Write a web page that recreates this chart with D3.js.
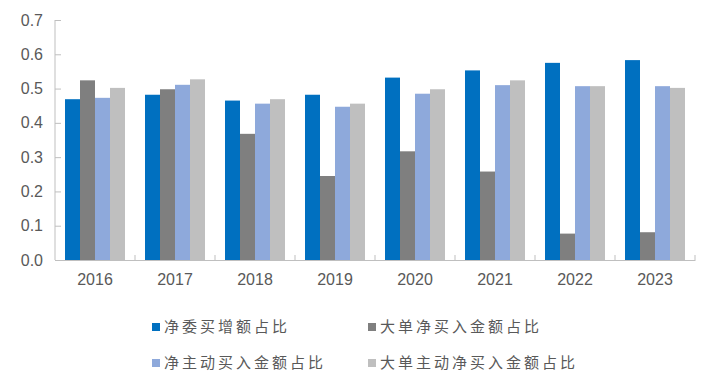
<!DOCTYPE html>
<html>
<head>
<meta charset="utf-8">
<script src="https://cdn.jsdelivr.net/npm/d3@7"></script>
<style>
  body { margin: 0; background: #fff; }
  text { font-family: "Liberation Sans", Arial, sans-serif; }
</style>
</head>
<body>
<div id="chart"></div>
<script>
var years = ["2016", "2017", "2018", "2019", "2020", "2021", "2022", "2023"];
var seriesNames = ["净委买增额占比", "大单净买入金额占比", "净主动买入金额占比", "大单主动净买入金额占比"];
var netBuyRatio    = [0.469, 0.482, 0.465, 0.482, 0.532, 0.553, 0.575, 0.583];
var bigNetRatio    = [0.524, 0.498, 0.368, 0.245, 0.317, 0.258, 0.077, 0.081];
var activeRatio    = [0.473, 0.511, 0.456, 0.447, 0.485, 0.510, 0.507, 0.507];
var bigActiveRatio = [0.502, 0.527, 0.469, 0.456, 0.498, 0.524, 0.507, 0.502];
var yTicks = [0, 0.1, 0.2, 0.3, 0.4, 0.5, 0.6, 0.7];

var colors = ["#0070C0", "#7F7F7F", "#8EA9DB", "#BFBFBF"];
var allSeries = [netBuyRatio, bigNetRatio, activeRatio, bigActiveRatio];

var W = 705, H = 384;
var margin = {top: 20, right: 10, bottom: 124, left: 55},
    width = 695 - margin.left,
    height = 260 - margin.top;

var svg = d3.select("#chart")
  .append("svg")
    .attr("width", W)
    .attr("height", H);
var g = svg.append("g")
    .attr("transform", "translate(" + margin.left + "," + margin.top + ")");

var x = d3.scaleBand()
  .domain(years)
  .range([0, width]);

var x1 = d3.scaleBand()
  .domain(d3.range(4))
  .range([10, x.bandwidth() - 10]);

var y = d3.scaleLinear()
  .domain([0, 0.7])
  .range([height, 0]);

// bars
for (var s = 0; s < allSeries.length; s++) {
  g.append("g")
    .selectAll("rect")
    .data(allSeries[s])
    .join("rect")
      .attr("x", function(d, i) { return x(years[i]) + x1(s); })
      .attr("y", function(d) { return y(d); })
      .attr("width", x1.bandwidth())
      .attr("height", function(d) { return height - y(d); })
      .attr("fill", colors[s]);
}

// y axis
var yAxis = g.append("g")
  .call(d3.axisRight(y).tickValues(yTicks).tickSize(6).tickFormat(d3.format(".1f")));
yAxis.select(".domain").attr("stroke", "#BFBFBF").attr("d", "M0," + height + "V0");
yAxis.selectAll(".tick line").attr("stroke", "#BFBFBF");
yAxis.selectAll(".tick text")
  .attr("x", -12)
  .attr("text-anchor", "end")
  .attr("fill", "#595959")
  .style("font-size", "16px");

// x axis
var xAxis = g.append("g")
  .attr("transform", "translate(0," + height + ")")
  .call(d3.axisBottom(x).tickSize(0).tickPadding(14));
xAxis.select(".domain").attr("stroke", "#BFBFBF");
xAxis.selectAll(".tick text")
  .attr("fill", "#595959")
  .style("font-size", "16px");
// category separators
g.append("g")
  .selectAll("line")
  .data(years)
  .join("line")
    .attr("x1", function(d) { return x(d) + x.bandwidth(); })
    .attr("x2", function(d) { return x(d) + x.bandwidth(); })
    .attr("y1", height)
    .attr("y2", height - 5)
    .attr("stroke", "#BFBFBF");

// legend
var legendPos = [[152, 327], [368, 327], [152, 363], [368, 363]];
var legend = svg.append("g");
seriesNames.forEach(function(name, i) {
  var lg = legend.append("g")
    .attr("transform", "translate(" + legendPos[i][0] + "," + legendPos[i][1] + ")");
  lg.append("rect")
    .attr("x", 0).attr("y", -4)
    .attr("width", 8).attr("height", 8)
    .attr("fill", colors[i]);
  lg.append("text")
    .attr("x", 12)
    .attr("y", 0)
    .attr("dy", "0.35em")
    .attr("fill", "#595959")
    .style("font-size", "15px")
    .style("letter-spacing", "3px")
    .style("font-family", "'Noto Sans CJK SC', sans-serif")
    .text(name);
});
</script>
</body>
</html>
